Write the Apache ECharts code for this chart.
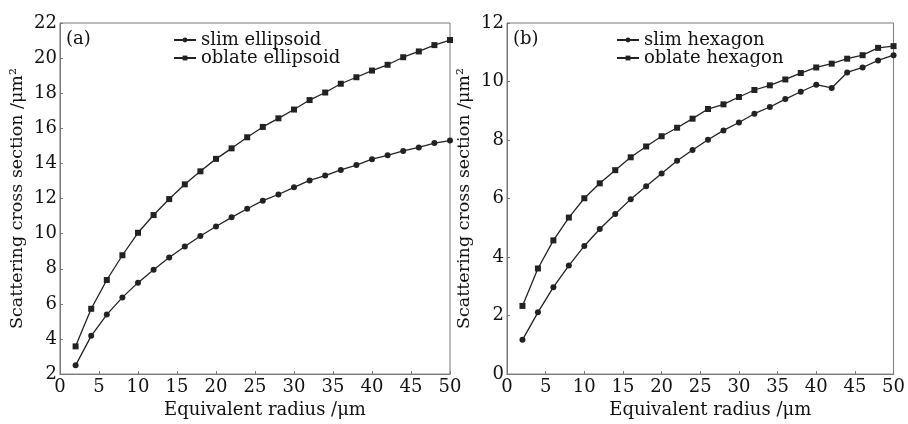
<!DOCTYPE html>
<html>
<head>
<meta charset="utf-8">
<script src="https://cdn.jsdelivr.net/npm/echarts@6/dist/echarts.min.js"></script>
<style>
  html, body { margin: 0; padding: 0; background: #fff; }
  #chart { width: 908px; height: 424px; }
</style>
</head>
<body>
<div id="chart"></div>
<script>
// equivalent radius (um)
var radius = [2, 4, 6, 8, 10, 12, 14, 16, 18, 20, 22, 24, 26, 28, 30, 32, 34, 36, 38, 40, 42, 44, 46, 48, 50];

// panel (a) ellipsoids
var slimEllipsoid = [2.5, 4.18, 5.39, 6.37, 7.21, 7.95, 8.64, 9.27, 9.87, 10.41, 10.93, 11.42, 11.88, 12.23, 12.64, 13.03, 13.31, 13.63, 13.91, 14.24, 14.46, 14.71, 14.91, 15.16, 15.3];
var oblateEllipsoid = [3.58, 5.72, 7.36, 8.77, 10.05, 11.06, 11.97, 12.81, 13.55, 14.26, 14.86, 15.49, 16.08, 16.57, 17.07, 17.61, 18.04, 18.54, 18.91, 19.29, 19.62, 20.05, 20.38, 20.74, 21.03];

// panel (b) hexagons
var slimHexagon = [1.17, 2.11, 2.97, 3.71, 4.38, 4.96, 5.47, 5.98, 6.42, 6.86, 7.29, 7.66, 8.01, 8.33, 8.6, 8.9, 9.13, 9.4, 9.65, 9.89, 9.78, 10.31, 10.48, 10.72, 10.9];
var oblateHexagon = [2.33, 3.61, 4.57, 5.35, 6.01, 6.52, 6.97, 7.41, 7.78, 8.13, 8.42, 8.73, 9.06, 9.22, 9.47, 9.71, 9.87, 10.07, 10.29, 10.48, 10.61, 10.78, 10.9, 11.15, 11.21];

var xTitle = "Equivalent radius /μm";
var yTitle = "Scattering cross section /μm²";

var FONT = "DejaVu Serif";
var AXIS_COLOR = "#777";
var TEXT_COLOR = "#111";
var LINE_COLOR = "#222";

function pairs(ys) {
  return radius.map(function (r, i) { return [r, ys[i]]; });
}

function xAxis(idx) {
  return {
    gridIndex: idx,
    type: "value",
    min: 0, max: 50, interval: 5,
    name: xTitle,
    nameLocation: "middle",
    nameGap: 21,
    nameTextStyle: { fontFamily: FONT, fontSize: 18, color: TEXT_COLOR, padding: [0, 0, 0, 20] },
    axisLine: { show: true, lineStyle: { color: AXIS_COLOR, width: 1 } },
    axisTick: { show: true, inside: true, length: 3, lineStyle: { color: AXIS_COLOR } },
    axisLabel: { fontFamily: FONT, fontSize: 18, color: TEXT_COLOR, margin: 4, showMaxLabel: true },
    splitLine: { show: false }
  };
}

function yAxis(idx, min, max) {
  return {
    gridIndex: idx,
    type: "value",
    min: min, max: max, interval: 2,
    name: yTitle,
    nameLocation: "middle",
    nameGap: 34,
    nameRotate: 90,
    nameTextStyle: { fontFamily: FONT, fontSize: 17.5, color: TEXT_COLOR },
    axisLine: { show: true, lineStyle: { color: AXIS_COLOR, width: 1 } },
    axisTick: { show: true, inside: true, length: 3, lineStyle: { color: AXIS_COLOR } },
    axisLabel: { fontFamily: FONT, fontSize: 18, color: TEXT_COLOR, margin: 3 },
    splitLine: { show: false }
  };
}

function line(name, idx, ys, symbol) {
  return {
    name: name,
    type: "line",
    xAxisIndex: idx,
    yAxisIndex: idx,
    data: pairs(ys),
    symbol: symbol,
    symbolSize: 6,
    showSymbol: true,
    smooth: false,
    lineStyle: { color: LINE_COLOR, width: 1.3 },
    itemStyle: { color: LINE_COLOR },
    animation: false
  };
}

var myChart = echarts.init(document.getElementById("chart"));

var option = {
  backgroundColor: "#fff",
  animation: false,
  grid: [
    { left: 60, right: 458, top: 23, bottom: 42.5, show: true, borderColor: AXIS_COLOR, borderWidth: 1, backgroundColor: "transparent" },
    { left: 507, right: 14, top: 23, bottom: 41.5, show: true, borderColor: AXIS_COLOR, borderWidth: 1, backgroundColor: "transparent" }
  ],
  xAxis: [xAxis(0), xAxis(1)],
  yAxis: [yAxis(0, 2, 22), yAxis(1, 0, 12)],
  legend: [
    {
      data: ["slim ellipsoid", "oblate ellipsoid"],
      orient: "vertical",
      left: 173, top: 31,
      padding: 0, itemGap: 0,
      itemWidth: 22, itemHeight: 6,
      textStyle: { fontFamily: FONT, fontSize: 18, color: TEXT_COLOR }
    },
    {
      data: ["slim hexagon", "oblate hexagon"],
      orient: "vertical",
      left: 616, top: 31,
      padding: 0, itemGap: 0,
      itemWidth: 22, itemHeight: 6,
      textStyle: { fontFamily: FONT, fontSize: 18, color: TEXT_COLOR }
    }
  ],
  graphic: [
    { type: "text", left: 66, top: 30, style: { text: "(a)", font: "18px 'DejaVu Serif'", fill: TEXT_COLOR } },
    { type: "text", left: 513, top: 30, style: { text: "(b)", font: "18px 'DejaVu Serif'", fill: TEXT_COLOR } }
  ],
  series: [
    line("slim ellipsoid", 0, slimEllipsoid, "circle"),
    line("oblate ellipsoid", 0, oblateEllipsoid, "rect"),
    line("slim hexagon", 1, slimHexagon, "circle"),
    line("oblate hexagon", 1, oblateHexagon, "rect")
  ]
};

window.onresize = function () {
  myChart.resize();
};
myChart.setOption(option);
</script>
</body>
</html>
